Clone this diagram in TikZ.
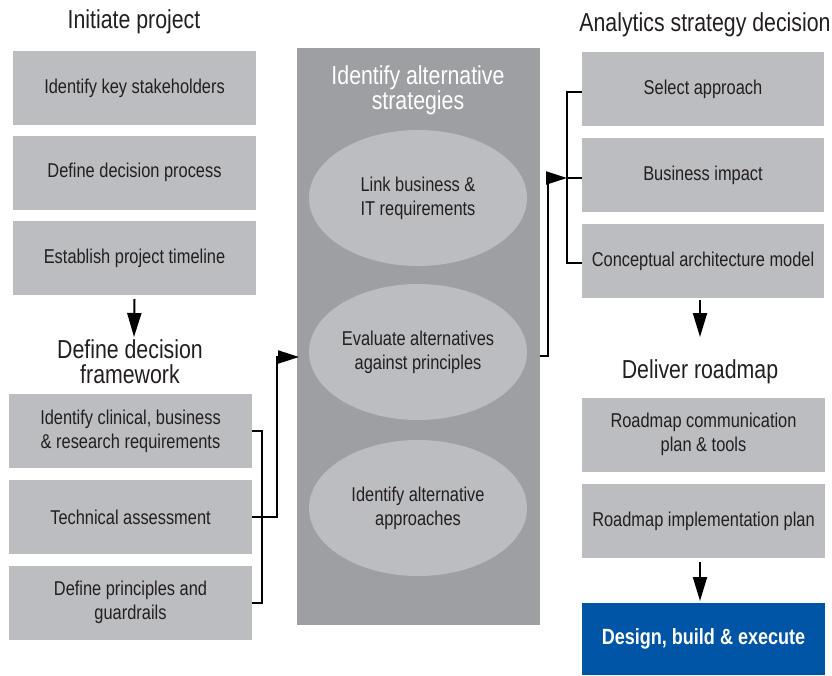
\documentclass[tikz,border=0pt]{standalone}
\usepackage{fontspec}
\setmainfont{Liberation Sans}[FakeStretch=0.82]
\usetikzlibrary{shapes.geometric,arrows.meta}
\definecolor{boxgray}{HTML}{BCBDC0}
\definecolor{panelgray}{HTML}{9D9FA2}
\definecolor{ellgray}{HTML}{BCBDC0}
\definecolor{txt}{HTML}{231F20}
\definecolor{blueb}{HTML}{0055A6}
\begin{document}
\begin{tikzpicture}[x=1pt,y=-1pt,
  box/.style={fill=boxgray, draw=none, minimum width=243pt, minimum height=74pt, inner sep=0pt, align=center, text=txt, font=\fontsize{20}{24}\selectfont},
  head/.style={align=center, text=txt, inner sep=0pt, font=\fontsize{26}{25}\selectfont},
  ell/.style={ellipse, fill=ellgray, minimum width=218pt, minimum height=136pt, inner sep=0pt, align=center, text=txt, font=\fontsize{20}{24}\selectfont},
  conn/.style={line width=2pt, black},
  arr/.style={conn, -{Triangle[length=21pt,width=13pt]}},
  varr/.style={conn, -{Triangle[length=24pt,width=14pt]}},
]
\useasboundingbox (0,0) rectangle (832,675);

% left column
\node[head] (h1) at (134,22) {Initiate project};
\node[box] (a1) at (134.5,88) {Identify key stakeholders};
\node[box] (a2) at (134.5,172.5) {Define decision process};
\node[box] (a3) at (134.5,258) {Establish project timeline};
\node[head] (h2) at (130,362) {Define decision\\framework};
\node[box] (b1) at (130.5,431) {Identify clinical, business\\\& research requirements};
\node[box] (b2) at (130.5,517) {Technical assessment};
\node[box] (b3) at (130.5,602.5) {Define principles and\\guardrails};

% centre panel
\node[fill=panelgray, minimum width=243pt, minimum height=577pt, inner sep=0pt] (p) at (418.5,336.5) {};
\node[head, text=white] (pt) at (418,90) {Identify alternative\\strategies};
\node[ell] (e1) at (418,198) {Link business \&\\IT requirements};
\node[ell] (e2) at (418,352) {Evaluate alternatives\\against principles};
\node[ell] (e3) at (418,508) {Identify alternative\\approaches};

% right column
\node[head] (h3) at (705,25) {Analytics strategy decision};
\node[box, minimum width=242pt] (c1) at (703,89) {Select approach};
\node[box, minimum width=242pt] (c2) at (703,175) {Business impact};
\node[box, minimum width=242pt] (c3) at (703,261) {Conceptual architecture model};
\node[head] (h4) at (700,372) {Deliver roadmap};
\node[box, minimum width=243pt] (d1) at (703.5,434.5) {Roadmap communication\\plan \& tools};
\node[box, minimum width=243pt] (d2) at (703.5,521) {Roadmap implementation plan};
\node[box, minimum width=243pt, minimum height=72pt, fill=blueb, text=white, font=\fontsize{22}{24}\selectfont\bfseries] (d3) at (703.5,639) {Design, build \& execute};

% connector coordinates
\coordinate (ah1) at (134,337);
\coordinate (lb) at (262,517);
\coordinate (lm) at (277,517);
\coordinate (pin) at (299,357);
\coordinate (pout) at (540,356);
\coordinate (rv) at (548,178);
\coordinate (rb) at (567,178);
\coordinate (rt) at (567,92);
\coordinate (rbt) at (567,263);
\coordinate (ah2) at (700,337);
\coordinate (ah3) at (700,601);

% connectors
\draw[varr] ([yshift=-4pt]a3.south) -- (ah1);
\draw[conn] (b1.east) -| (lb) |- (b3.east);
\draw[arr] (b2.east) -- (lm) |- (pin);
\draw[arr] (pout) -| (rv) -- (rb);
\draw[conn] (c1.west |- rt) -- (rt) -- (rbt) -- (c3.west |- rbt);
\draw[conn] (rb) -- (c2.west |- rb);
\draw[varr] ([yshift=-2pt]c3.south -| ah2) -- (ah2);
\draw[varr] ([yshift=-4pt]d2.south -| ah3) -- (ah3);
\end{tikzpicture}
\end{document}
